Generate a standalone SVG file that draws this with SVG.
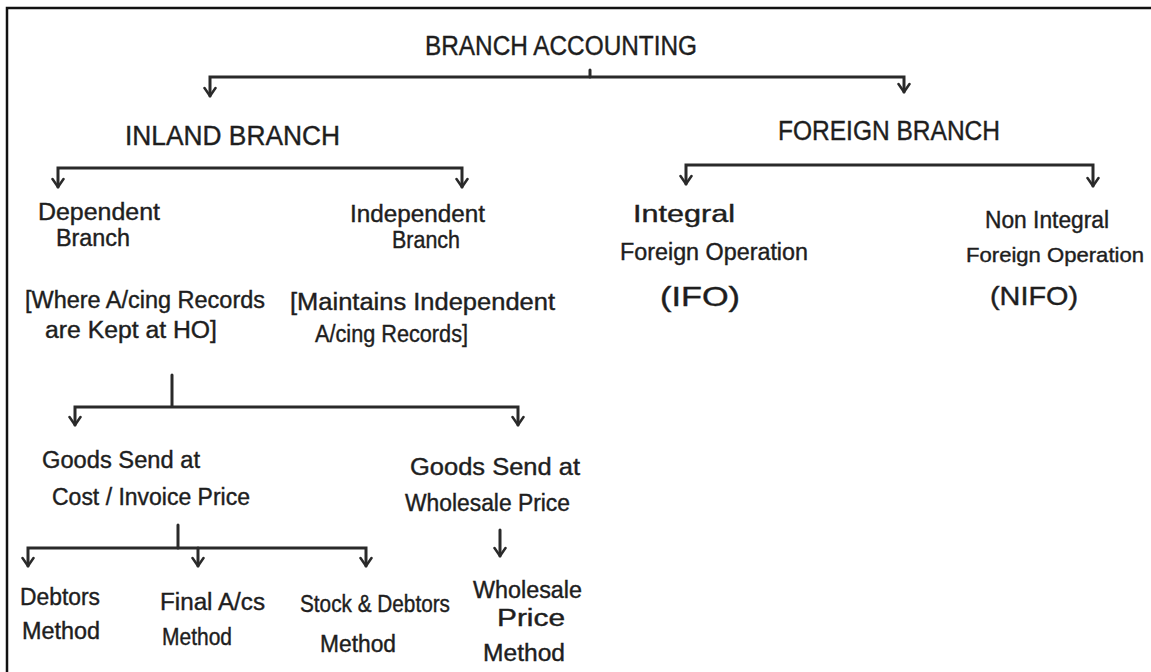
<svg xmlns="http://www.w3.org/2000/svg" width="1151" height="672" viewBox="0 0 1151 672">
  <style>
    .t { font-family: "Liberation Sans", "DejaVu Sans", sans-serif; fill: #1e1e1e; stroke: #1e1e1e; stroke-width: 0.4; text-anchor: start; }
    .cap { font-size: 27px; }
    .lbl { font-size: 23px; }
    .ln { fill: none; stroke: #2a2a2a; stroke-width: 3; stroke-linecap: round; }
    .frame { fill: none; stroke: #111; stroke-width: 2.5; }
  </style>
  <defs>
    <marker id="arr" viewBox="0 0 12 14" refX="10" refY="7" markerWidth="12" markerHeight="14" markerUnits="userSpaceOnUse" orient="auto-start-reverse">
      <path d="M2,1.5 L10,7 L2,12.5" fill="none" stroke="#2a2a2a" stroke-width="2.5" stroke-linecap="round" stroke-linejoin="round"/>
    </marker>
  </defs>

  <rect width="1151" height="672" fill="#ffffff"/>
  <!-- page frame: top and left edges -->
  <path class="frame" d="M7,672 L7,8 L1151,8"/>

  <!-- connectors -->
  <g id="connectors">
    <path class="ln" d="M590,70 L590,77"/>
    <path class="ln" d="M210,96 L210,77 L904,77 L904,92" marker-start="url(#arr)" marker-end="url(#arr)"/>
    <path class="ln" d="M58,187 L58,168 L462,168 L462,187" marker-start="url(#arr)" marker-end="url(#arr)"/>
    <path class="ln" d="M686,184 L686,165 L1093,165 L1093,186" marker-start="url(#arr)" marker-end="url(#arr)"/>
    <path class="ln" d="M172,375 L172,406"/>
    <path class="ln" d="M75,425 L75,407 L518,407 L518,425" marker-start="url(#arr)" marker-end="url(#arr)"/>
    <path class="ln" d="M178,525 L178,548"/>
    <path class="ln" d="M28,566 L28,548 L366,548 L366,566" marker-start="url(#arr)" marker-end="url(#arr)"/>
    <path class="ln" d="M198,548 L198,566" marker-end="url(#arr)"/>
    <path class="ln" d="M500,530 L500,556" marker-end="url(#arr)"/>
  </g>

  <g id="root">
    <text class="t cap" x="425" y="55" textLength="272" lengthAdjust="spacingAndGlyphs">BRANCH ACCOUNTING</text>
  </g>
  <g id="inland">
    <text class="t cap" x="125" y="145" textLength="215" lengthAdjust="spacingAndGlyphs">INLAND BRANCH</text>
  </g>
  <g id="foreign">
    <text class="t cap" x="778" y="140" textLength="222" lengthAdjust="spacingAndGlyphs">FOREIGN BRANCH</text>
  </g>

  <g id="dependent">
    <text class="t lbl" x="38" y="220" textLength="122" lengthAdjust="spacingAndGlyphs">Dependent</text>
    <text class="t lbl" x="56" y="246" textLength="74" lengthAdjust="spacingAndGlyphs">Branch</text>
    <text class="t lbl" x="25" y="308" textLength="240" lengthAdjust="spacingAndGlyphs">[Where A/cing Records</text>
    <text class="t lbl" x="45" y="338" textLength="172" lengthAdjust="spacingAndGlyphs">are Kept at HO]</text>
  </g>
  <g id="independent">
    <text class="t lbl" x="350" y="222" textLength="135" lengthAdjust="spacingAndGlyphs">Independent</text>
    <text class="t lbl" x="392" y="248" textLength="68" lengthAdjust="spacingAndGlyphs">Branch</text>
    <text class="t lbl" x="290" y="310" textLength="265" lengthAdjust="spacingAndGlyphs">[Maintains Independent</text>
    <text class="t lbl" x="315" y="342" textLength="153" lengthAdjust="spacingAndGlyphs">A/cing Records]</text>
  </g>
  <g id="ifo">
    <text class="t lbl" x="633" y="222" textLength="102" lengthAdjust="spacingAndGlyphs">Integral</text>
    <text class="t lbl" x="620" y="260" textLength="188" lengthAdjust="spacingAndGlyphs">Foreign Operation</text>
    <text class="t" style="font-size:28px" x="660" y="306" textLength="80" lengthAdjust="spacingAndGlyphs">(IFO)</text>
  </g>
  <g id="nifo">
    <text class="t lbl" x="985" y="228" textLength="124" lengthAdjust="spacingAndGlyphs">Non Integral</text>
    <text class="t" style="font-size:21px" x="966" y="262" textLength="178" lengthAdjust="spacingAndGlyphs">Foreign Operation</text>
    <text class="t" style="font-size:26px" x="990" y="305" textLength="88" lengthAdjust="spacingAndGlyphs">(NIFO)</text>
  </g>
  <g id="cost">
    <text class="t lbl" x="42" y="468" textLength="158" lengthAdjust="spacingAndGlyphs">Goods Send at</text>
    <text class="t lbl" x="52" y="505" textLength="198" lengthAdjust="spacingAndGlyphs">Cost / Invoice Price</text>
  </g>
  <g id="wholesale">
    <text class="t lbl" x="410" y="475" textLength="170" lengthAdjust="spacingAndGlyphs">Goods Send at</text>
    <text class="t lbl" x="405" y="511" textLength="165" lengthAdjust="spacingAndGlyphs">Wholesale Price</text>
  </g>
  <g id="debtors">
    <text class="t lbl" x="20" y="605" textLength="80" lengthAdjust="spacingAndGlyphs">Debtors</text>
    <text class="t lbl" x="22" y="639" textLength="78" lengthAdjust="spacingAndGlyphs">Method</text>
  </g>
  <g id="final">
    <text class="t lbl" x="160" y="610" textLength="105" lengthAdjust="spacingAndGlyphs">Final A/cs</text>
    <text class="t lbl" x="162" y="645" textLength="70" lengthAdjust="spacingAndGlyphs">Method</text>
  </g>
  <g id="stock">
    <text class="t lbl" x="300" y="612" textLength="150" lengthAdjust="spacingAndGlyphs">Stock &amp; Debtors</text>
    <text class="t lbl" x="320" y="652" textLength="76" lengthAdjust="spacingAndGlyphs">Method</text>
  </g>
  <g id="wsmethod">
    <text class="t lbl" x="473" y="598" textLength="109" lengthAdjust="spacingAndGlyphs">Wholesale</text>
    <text class="t lbl" x="497" y="626" textLength="68" lengthAdjust="spacingAndGlyphs">Price</text>
    <text class="t lbl" x="483" y="661" textLength="82" lengthAdjust="spacingAndGlyphs">Method</text>
  </g>
</svg>
